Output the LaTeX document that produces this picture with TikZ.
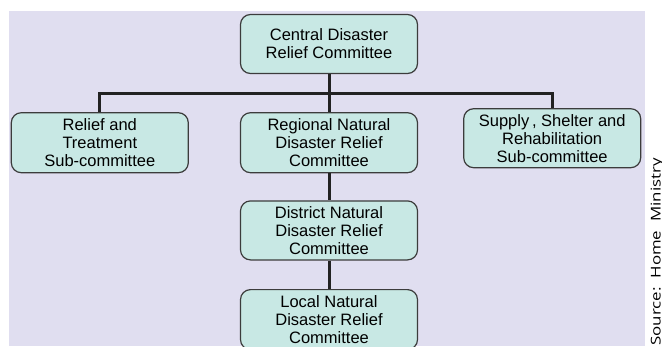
\documentclass[tikz,border=0pt]{standalone}
\usepackage{fontspec}
\setmainfont{Liberation Sans}
\newfontfamily\srcfont{Open Sans}
\usepackage{xcolor}
\usepackage{tikz}
\usetikzlibrary{positioning}
\definecolor{bglav}{RGB}{224,222,240}
\definecolor{boxcyan}{RGB}{200,232,228}
\definecolor{boxedge}{RGB}{60,60,60}
\definecolor{linkdark}{RGB}{34,34,34}

\begin{document}
\begin{tikzpicture}[
    unit/.style={draw=boxedge, line width=1.2pt, fill=boxcyan, rounded corners=10pt,
        minimum width=177pt, minimum height=59pt, align=center, inner sep=2pt,
        font=\fontsize{16.5pt}{18pt}\selectfont},
    link/.style={draw=linkdark, line width=3pt},
]
    \useasboundingbox (0,0) rectangle (662pt,-346pt);
    \fill[bglav] (9pt,-11pt) rectangle (645pt,-346pt);

    \node[unit] (central) at (329pt,-44pt) {Central Disaster\\Relief Committee};
    \node[unit, minimum height=60pt, below=38pt of central] (regional) {Regional Natural\\Disaster Relief\\Committee};
    \node[unit, minimum height=60pt, left=51pt of regional] (relief) {Relief and\\Treatment\\Sub-committee};
    \node[unit, right=45pt of regional, yshift=4.5pt] (supply) {Supply\,, Shelter and\\Rehabilitation\\Sub-committee};
    \node[unit, below=27pt of regional] (district) {District Natural\\Disaster Relief\\Committee};
    \node[unit, minimum height=60pt, below=28.5pt of district] (local) {Local Natural\\Disaster Relief\\Committee};

    \draw[link] (central) -- (regional);
    \draw[link] (relief.north) -- ++(0,19pt) -| (supply.north);
    \draw[link] (regional) -- (district);
    \draw[link] (district) -- (local);

    % source line, partly off the page as in the scan
    \node[rotate=90, xscale=1.25, anchor=base east, inner sep=0pt, font=\srcfont\fontsize{13.5pt}{15pt}\selectfont] (source) at (660.5pt,-158pt) {Source:\ \ Home\ \ Ministry};
\end{tikzpicture}
\end{document}
